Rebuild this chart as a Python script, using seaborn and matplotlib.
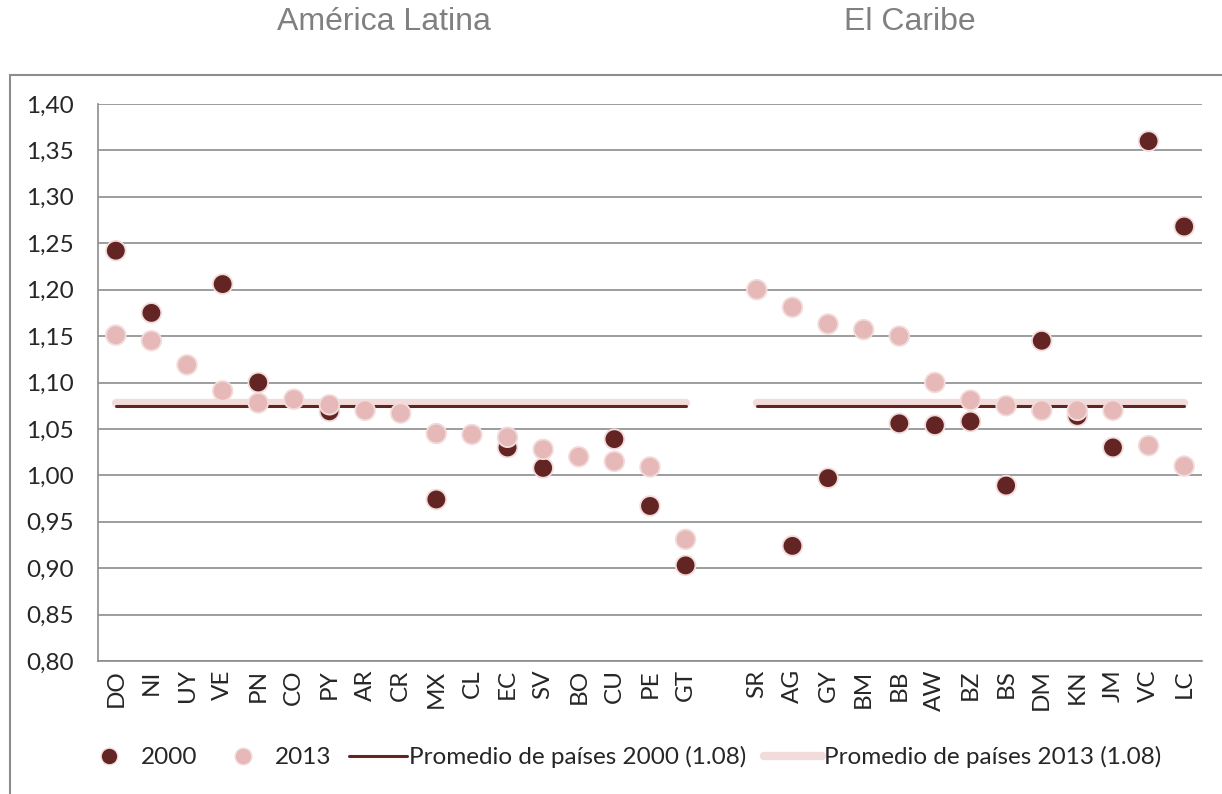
import numpy as np
import pandas as pd
import seaborn as sns
import matplotlib.pyplot as plt
from matplotlib.patches import Rectangle
from matplotlib.lines import Line2D
from matplotlib.ticker import FuncFormatter

# ── datos ──────────────────────────────────────────────────────────────
paises = ["DO", "NI", "UY", "VE", "PN", "CO", "PY", "AR", "CR", "MX", "CL", "EC",
          "SV", "BO", "CU", "PE", "GT", "",
          "SR", "AG", "GY", "BM", "BB", "AW", "BZ", "BS", "DM", "KN", "JM", "VC", "LC"]
nan = np.nan
v2000 = [1.242, 1.175, nan, 1.206, 1.100, nan, 1.069, nan, nan, 0.974, nan, 1.030,
         1.008, nan, 1.039, 0.967, 0.903, nan,
         nan, 0.924, 0.997, nan, 1.056, 1.054, 1.058, 0.989, 1.145, 1.064, 1.030, 1.360, 1.268]
v2013 = [1.151, 1.145, 1.119, 1.091, 1.078, 1.082, 1.076, 1.070, 1.067, 1.045, 1.044, 1.041,
         1.028, 1.020, 1.015, 1.009, 0.931, nan,
         1.200, 1.181, 1.163, 1.157, 1.150, 1.100, 1.081, 1.075, 1.070, 1.070, 1.070, 1.032, 1.010]
prom_2000 = 1.075
prom_2013 = 1.078
grupos = {"América Latina": ("DO", "GT"), "El Caribe": ("SR", "LC")}

oscuro = "#632523"
rosa = "#E6B9B8"
rosa_claro = "#F2DCDB"
gris = "#8c8c8c"

sns.set_style("white")
plt.rcParams['font.family'] = ['Lato', 'DejaVu Sans']

fig = plt.figure(figsize=(12.22, 7.94), dpi=100)
ax = fig.add_axes([98 / 1222, 133 / 794, 1104 / 1222, 557 / 794])

df = pd.DataFrame({"pos": range(len(paises)), "pais": paises, "2000": v2000, "2013": v2013})
largo = df.melt(id_vars=["pos", "pais"], value_vars=["2000", "2013"],
                var_name="anio", value_name="valor").dropna()

# líneas de promedio por grupo
for nombre, (ini, fin) in grupos.items():
    xs = [paises.index(ini), paises.index(fin)]
    sns.lineplot(x=xs, y=[prom_2013] * 2, ax=ax, color=rosa_claro, linewidth=6,
                 solid_capstyle="round", zorder=2)
    sns.lineplot(x=xs, y=[prom_2000] * 2, ax=ax, color=oscuro, linewidth=2.2,
                 solid_capstyle="round", zorder=2.1)

# puntos
sns.scatterplot(data=largo, x="pos", y="valor", hue="anio",
                palette={"2000": oscuro, "2013": rosa}, s=200,
                edgecolor=rosa_claro, linewidth=1.3, legend=False, zorder=3, ax=ax)

# ejes
ax.set_xlim(-0.5, len(paises) - 0.5)
ax.set_ylim(0.80, 1.40)
ax.set_yticks(np.arange(0.80, 1.4001, 0.05))
ax.yaxis.set_major_formatter(FuncFormatter(lambda v, p: f"{v:.2f}".replace(".", ",")))
ax.set_xticks(range(len(paises)))
ax.set_xticklabels(paises)
ax.set_xticks(np.arange(-0.5, len(paises)), minor=True)
ax.tick_params(axis="x", which="major", length=0, pad=6, rotation=90, labelsize=17.5)
ax.tick_params(axis="x", which="minor", length=5, width=1.2, color=gris, direction="out")
ax.tick_params(axis="y", length=6.5, width=1.2, color=gris, direction="out", pad=11,
               labelsize=17.5)
ax.grid(axis="y", color=gris, linewidth=1.2)
ax.grid(axis="x", visible=False)
ax.set_xlabel("")
ax.set_ylabel("")
sns.despine(ax=ax, top=True, right=True)
for lado in ["left", "bottom"]:
    ax.spines[lado].set_color(gris)
    ax.spines[lado].set_linewidth(1.2)

# leyenda
handles = [
    Line2D([], [], marker="o", linestyle="none", markersize=12, markerfacecolor=oscuro,
           markeredgecolor=rosa_claro),
    Line2D([], [], marker="o", linestyle="none", markersize=12, markerfacecolor=rosa,
           markeredgecolor=rosa_claro),
    Line2D([], [], color=oscuro, linewidth=2.2),
    Line2D([], [], color=rosa_claro, linewidth=6),
]
labels = ["2000", "2013", "Promedio de países 2000 (1.08)", "Promedio de países 2013 (1.08)"]
fig.legend(handles, labels, loc="center", bbox_to_anchor=(0.508, 1 - 757 / 794), ncol=4,
           frameon=False, fontsize=17.5, handlelength=2.4, handletextpad=0.1,
           columnspacing=0.7)

# títulos de grupo
fig.text(384 / 1222, 1 - 22 / 794, "América Latina", ha="center", va="center",
         fontsize=23, color="#808080", family=["Liberation Sans", "DejaVu Sans"])
fig.text(910 / 1222, 1 - 22 / 794, "El Caribe", ha="center", va="center",
         fontsize=23, color="#808080", family=["Liberation Sans", "DejaVu Sans"])

# marco
fig.patches.append(Rectangle((10 / 1222, -0.1), 1.2, 0.1 + 1 - 75 / 794,
                             transform=fig.transFigure, fill=False,
                             edgecolor=gris, linewidth=1.5))

fig.savefig("out.png", dpi=100)
